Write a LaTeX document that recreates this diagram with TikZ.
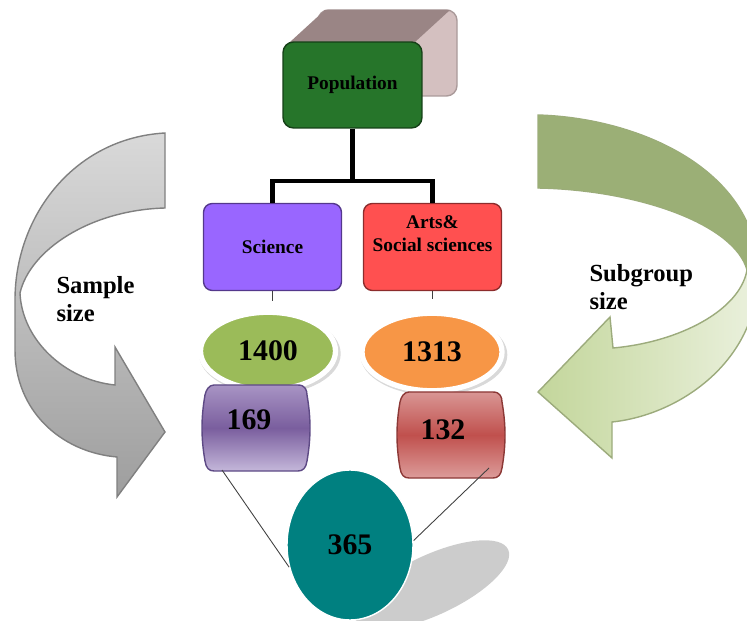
\documentclass[tikz,border=0pt]{standalone}
\usepackage{fontspec}
\setmainfont{Liberation Serif}
\usetikzlibrary{shapes.geometric, shadows}
\definecolor{cpop}{HTML}{26752A}
\definecolor{ctop}{HTML}{9A8585}
\definecolor{cside}{HTML}{D4C0C0}
\definecolor{csci}{HTML}{9966FF}
\definecolor{carts}{HTML}{FF5050}
\definecolor{cgreen}{HTML}{9BBB59}
\definecolor{corange}{HTML}{F79646}
\definecolor{cteal}{HTML}{008080}
\definecolor{cgreyl}{HTML}{D9D9D9}
\definecolor{cgreyd}{HTML}{9E9E9E}
\definecolor{colive}{HTML}{9BAF76}
\definecolor{clightg}{HTML}{C3D69B}
\definecolor{cpaleg}{HTML}{EBF1DE}
\definecolor{cpurple}{HTML}{7A5E9E}
\definecolor{cpurplel}{HTML}{A894C4}
\definecolor{cpurpleb}{HTML}{C4B7DA}
\definecolor{cpurpled}{HTML}{5E4A85}
\definecolor{cred}{HTML}{C0504D}
\definecolor{credl}{HTML}{D99694}
\definecolor{credb}{HTML}{DC9C9A}
\definecolor{credd}{HTML}{8C3836}
\tikzset{
  every picture/.style={line width=0.8pt},
  box/.style={draw=#1!55!black, fill=#1, rounded corners=5pt, align=center, minimum width=2.76cm, minimum height=1.74cm, font=\fontsize{11}{13}\selectfont\bfseries},
  oval/.style={ellipse, draw=white, line width=3pt, fill=#1, minimum width=2.7cm, minimum height=1.55cm, font=\fontsize{17}{20}\selectfont\bfseries,
    drop shadow={shadow scale=1.05, shadow xshift=1pt, shadow yshift=-1.5pt, opacity=0.3}},
  num/.style={font=\fontsize{17}{20}\selectfont\bfseries},
  sidetext/.style={anchor=north west, align=left, font=\fontsize{14}{16}\selectfont\bfseries},
  tree/.style={line width=2.3pt, black},
  thinline/.style={line width=0.5pt, draw=black!75},
  pillow/.pic={
    \path[pic actions] (-42,-43) -- (42,-43) .. controls (49,-43) and (51,-38) .. (51,-33)
      .. controls (55,-10) and (55,10) .. (51,33) .. controls (50,40) and (47,43) .. (42,43)
      -- (-42,43) .. controls (-47,43) and (-50,40) .. (-51,33) .. controls (-55,10) and (-55,-10) .. (-51,-33)
      .. controls (-50,-38) and (-47,-43) .. (-42,-43) -- cycle;
    \coordinate (-bl) at (-34,42);
    \coordinate (-br) at (38,33);
  },
  purplepill/.style={draw=cpurpled, top color=cpurplel, bottom color=cpurpleb, middle color=cpurple},
  redpill/.style={draw=credd, top color=credl, bottom color=credb, middle color=cred},
}
\begin{document}
\begin{tikzpicture}[x=0.02cm, y=-0.02cm]
  \useasboundingbox (0,0) rectangle (747,621);
  % sweeping arrows at the sides
  \shade[top color=cgreyl, bottom color=cgreyd, draw=black!50] (165,133) .. controls (75,138) and (15,215) .. (15,300) -- (15,350)
    .. controls (15,410) and (60,452) .. (117,457) -- (117,497) -- (165,432) -- (115,347) -- (115,385)
    .. controls (65,380) and (22,340) .. (20,293) .. controls (30,250) and (90,210) .. (165,208) -- cycle;
  \shade[left color=clightg, right color=cpaleg, draw=clightg!80!black] (538,115) .. controls (640,118) and (755,170) .. (758,270)
    .. controls (760,360) and (680,415) .. (612,422) -- (612,458) -- (538,392) -- (610,317) -- (613,348)
    .. controls (680,342) and (740,310) .. (747,270) .. controls (735,225) and (640,190) .. (538,188) -- cycle;
  \fill[colive] (538,115) .. controls (640,118) and (755,170) .. (758,270) -- (747,270)
    .. controls (735,225) and (640,190) .. (538,188) -- cycle;
  \fill[black!20, rotate around={25:(432,585)}] (432,585) ellipse [x radius=84, y radius=30];
  % population block with its depth
  \filldraw[fill=cside, draw=cside!80!black, rounded corners=6pt] (318,10) rectangle (457,96);
  \fill[ctop] (290,42) -- (325,10) -- (450,10) -- (415,42) -- cycle;
  \node[box=cpop, minimum width=2.78cm, minimum height=1.72cm, rounded corners=6pt] (pop) at (352.5,85) {Population};
  \node[box=csci] (sci) at (272.5,247) {Science};
  \node[box=carts] (arts) at (432.5,247) {Arts\&\\Social sciences\\[2pt]~};
  \draw[tree] (pop.south) -- ++(0,52) coordinate (fork);
  \draw[tree] (fork) -| (sci.north);
  \draw[tree] (fork) -| (arts.north);
  \draw[thinline] (sci.south) -- ++(0,10);
  \draw[thinline] (arts.south) -- ++(0,8);
  \node[oval=cgreen] (n1400) at (268,351) {1400};
  \node[oval=corange, minimum width=2.8cm] (n1313) at (432,352) {1313};
  \pic[purplepill] (p169) at (256,428) {pillow};
  \pic[redpill] (p132) at (451,435) {pillow};
  \node[num] (n169) at (249,420) {169};
  \node[num] (n132) at (443,430) {132};
  \node[ellipse, fill=cteal, draw=white, minimum width=2.52cm, minimum height=3cm, num] (n365) at (350,545) {365};
  \draw[thinline] (p169-bl) -- (n365.200);
  \draw[thinline] (p132-br) -- (n365.4);
  \node[sidetext] (lsample) at (50,270) {Sample\\size};
  \node[sidetext] (lsub) at (583,258) {Subgroup\\size};
\end{tikzpicture}
\end{document}
